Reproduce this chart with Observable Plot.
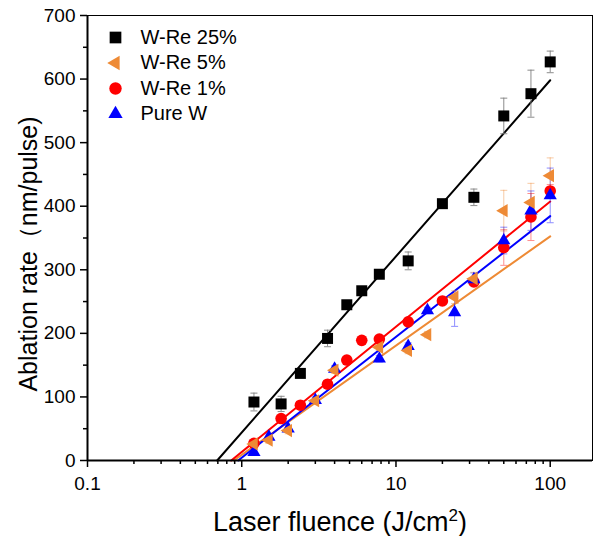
<!DOCTYPE html>
<html><head><meta charset="utf-8">
<script src="https://cdn.jsdelivr.net/npm/d3@7"></script>
<script src="https://cdn.jsdelivr.net/npm/@observablehq/plot@0.6"></script>
<style>body{margin:0;background:#fff}</style>
</head><body><div id="chart"></div>
<script>
// ---- data ----
const seriesNames = ["W-Re 25%", "W-Re 5%", "W-Re 1%", "Pure W"];
const seriesColors = ["#000000", "#EE8A35", "#FF0000", "#0000FF"];
const errColors = ["#808080", "#EE8A35", "#FF0000", "#0000FF"];

const xWRe25 = [1.2, 1.8, 2.4, 3.6, 4.8, 6, 7.8, 12, 20, 32, 50, 75, 100];
const yWRe25 = [92, 89, 137, 192, 245, 267, 293, 314, 404, 414, 542, 577, 627];
const eWRe25 = [14, 12, 4, 13, 4, 4, 4, 14, 4, 13, 28, 37, 17];

const xWRe5 = [1.2, 1.5, 2, 3, 4, 7.8, 12, 16, 24, 32, 50, 75, 100];
const yWRe5 = [26, 32, 47, 94, 142, 178, 173, 198, 257, 286, 393, 406, 448];
const eWRe5 = [5, 5, 5, 5, 5, 5, 5, 5, 10, 10, 32, 30, 28];

const xWRe1 = [1.2, 1.8, 2.4, 3.6, 4.8, 6, 7.8, 12, 20, 32, 50, 75, 100];
const yWRe1 = [27, 66, 87, 120, 158, 189, 191, 218, 251, 281, 335, 383, 424];
const eWRe1 = [5, 5, 5, 5, 5, 5, 5, 5, 5, 5, 28, 37, 10];

const xPureW = [1.2, 1.5, 2, 3, 4, 7.8, 12, 16, 24, 32, 50, 75, 100];
const yPureW = [13, 37, 50, 95, 144, 160, 180, 236, 233, 285, 346, 393, 417];
const ePureW = [5, 5, 5, 5, 5, 5, 5, 5, 22, 10, 21, 31, 43];

// linear fits y = a + b*log10(x), drawn from y=0 up to x=fitEnd
const fitA = [44.1, 8.8, 13.4, 4.4];
const fitB = [277, 171.9, 197, 190.0];
const fitEnd = 100;

const xMajor = [0.1, 1, 10, 100];
const xMinor = [0.2,0.3,0.4,0.5,0.6,0.7,0.8,0.9,2,3,4,5,6,7,8,9,20,30,40,50,60,70,80,90];
const yMajor = [0, 100, 200, 300, 400, 500, 600, 700];
const yMinor = [50, 150, 250, 350, 450, 550, 650];

const yTitle = "Ablation rate（nm/pulse)";
const xTitleMain = "Laser fluence (J/cm";
const xTitleSup = "2";
const xTitleEnd = ")";

// ---- build ----
const xs = [xWRe25, xWRe5, xWRe1, xPureW];
const ys = [yWRe25, yWRe5, yWRe1, yPureW];
const es = [eWRe25, eWRe5, eWRe1, ePureW];
const symbols = ["square", "triangle", "circle", "triangle"];
const rotates = [0, -90, 0, 0];
const radii = [6.2, 4.9, 5.8, 4.9];

const series = seriesNames.map((name, i) => ({
  name, color: seriesColors[i], err: errColors[i], symbol: symbols[i], rotate: rotates[i], r: radii[i],
  pts: xs[i].map((x, j) => ({x, y: ys[i][j], e: es[i][j]})),
  fit: [{x: Math.pow(10, -fitA[i] / fitB[i]), y: 0}, {x: fitEnd, y: fitA[i] + fitB[i] * Math.log10(fitEnd)}]
}));

const capSymbol = {draw(ctx) { ctx.moveTo(-3.5, 0); ctx.lineTo(3.5, 0); }};

const drawOrder = [2, 3, 1, 0]; // red, blue, orange, black (bottom to top)

const marks = [Plot.frame({stroke: "#000", strokeWidth: 1})];
for (const s of series) marks.push(Plot.line(s.fit, {x: "x", y: "y", stroke: s.color, strokeWidth: 2}));
for (const i of drawOrder) {
  const s = series[i];
  const op = i === 0 ? 0.9 : 0.45;
  marks.push(Plot.ruleX(s.pts, {x: "x", y1: d => d.y - d.e, y2: d => d.y + d.e, stroke: s.err, strokeOpacity: op, strokeWidth: 1}));
  marks.push(Plot.dot(s.pts, {x: "x", y: d => d.y - d.e, symbol: capSymbol, stroke: s.err, strokeOpacity: op, strokeWidth: 1, fill: "none"}));
  marks.push(Plot.dot(s.pts, {x: "x", y: d => d.y + d.e, symbol: capSymbol, stroke: s.err, strokeOpacity: op, strokeWidth: 1, fill: "none"}));
}
for (const i of drawOrder) {
  const s = series[i];
  marks.push(Plot.dot(s.pts, {x: "x", y: "y", symbol: s.symbol, r: s.r, fill: s.color, stroke: "none", rotate: s.rotate}));
}
marks.push(
  Plot.ruleY([0], {stroke: "#000", strokeWidth: 2}),
  Plot.ruleX([0.1], {stroke: "#000", strokeWidth: 2}),
  Plot.axisX({ticks: xMajor, tickSize: 7, tickPadding: 9, tickFormat: d => String(d), fontSize: 19, strokeWidth: 1.5, label: null}),
  Plot.axisX({ticks: xMinor, tickSize: 4, tickFormat: () => "", strokeWidth: 1.5, label: null}),
  Plot.axisY({ticks: yMajor, tickSize: 7, tickPadding: 5, fontSize: 19, strokeWidth: 1.5, label: null}),
  Plot.axisY({ticks: yMinor, tickSize: 4, tickFormat: () => "", strokeWidth: 1.5, label: null})
);
series.forEach((s, i) => {
  marks.push(Plot.dot([s.name], {frameAnchor: "top-left", dx: 28, dy: 22 + i * 25.5, symbol: s.symbol, r: s.r + 0.4, fill: s.color, stroke: "none", rotate: s.rotate}));
  marks.push(Plot.text([s.name], {frameAnchor: "top-left", dx: 53, dy: 22 + i * 25.5, text: d => d, textAnchor: "start", lineAnchor: "middle", fontSize: 20, fill: "#000"}));
});
marks.push(
  Plot.text([yTitle], {frameAnchor: "left", rotate: -90, dx: -59, dy: 16, text: d => d, fontSize: 25, textAnchor: "middle", lineAnchor: "middle", fill: "#000"}),
  Plot.text([xTitleMain], {frameAnchor: "bottom", dy: 62, text: d => d, fontSize: 27, textAnchor: "middle", lineAnchor: "middle", fill: "#000", className: "xtitle"})
);

const chart = Plot.plot({
  width: 595, height: 536,
  marginLeft: 87, marginRight: 3, marginTop: 15, marginBottom: 76,
  x: {type: "log", domain: [0.1, 188]},
  y: {domain: [0, 700]},
  style: {fontFamily: "'Liberation Sans', Arial, sans-serif", fontSize: "18px", color: "#000", background: "#fff"},
  marks
});
// add the superscript 2 as real text
const t = chart.querySelector("g.xtitle text") || chart.querySelector(".xtitle text");
if (t) {
  t.textContent = "";
  const ns = "http://www.w3.org/2000/svg";
  const a = document.createElementNS(ns, "tspan"); a.textContent = xTitleMain; t.appendChild(a);
  const b = document.createElementNS(ns, "tspan"); b.textContent = xTitleSup; b.setAttribute("dy", "-10"); b.setAttribute("font-size", "17"); t.appendChild(b);
  const c = document.createElementNS(ns, "tspan"); c.textContent = xTitleEnd; c.setAttribute("dy", "10"); t.appendChild(c);
}
document.getElementById("chart").appendChild(chart);
</script>
</body></html>
